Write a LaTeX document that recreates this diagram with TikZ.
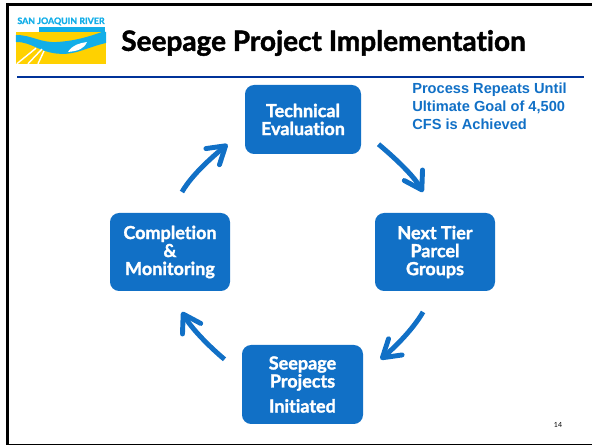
\documentclass[tikz,border=0pt]{standalone}
\usepackage{fontspec}
\setmainfont{Lato}[Ligatures=NoCommon, BoldFeatures={FakeBold=1.6}]
\newfontfamily\notefont{Liberation Sans}
\usetikzlibrary{arrows.meta}
\definecolor{boxblue}{HTML}{1170C6}
\definecolor{ruleblue}{HTML}{003399}
\definecolor{logoblue}{HTML}{12AEE8}
\definecolor{logoyellow}{HTML}{FFD100}
\tikzset{
    stagebox/.style={fill=boxblue, rounded corners=6.5pt, align=center, text=white, font=\bfseries\fontsize{12.8}{12.8}\selectfont, inner sep=0pt},
    cyclearrow/.style={draw=boxblue, line width=3.5pt, -{Straight Barb[length=12pt, width=15pt, round]}}
}

\begin{document}
\begin{tikzpicture}
    \useasboundingbox (0, 0) rectangle (14.8, 11.125);

    \draw[line width=2.1pt] (14.8, 11.0175) -- (0.1875, 11.0175) -- (0.1875, 0) -- (14.8, 0);
    \draw[ruleblue, line width=1.4pt] (0.425, 9.2) -- (14.6, 9.2);

    % logo
    \fill[logoyellow] (0.4, 9.525) rectangle (2.65, 10.325);
    \fill[logoblue] (0.4, 10.25) .. controls (0.8, 10.25) and (1, 10.05) .. (1.425, 10.075) .. controls (1.85, 10.1) and (2.2, 10.2) .. (2.55, 10.325) -- (2.65, 10.325) -- (2.65, 10.05) .. controls (2.2, 9.95) and (1.9, 9.75) .. (1.5, 9.78) .. controls (1, 9.8) and (0.8, 10.08) .. (0.4, 10.075) -- cycle;
    \fill[white] (1.7, 9.825) .. controls (1.8, 10) and (2, 10.05) .. (2.175, 10.075) .. controls (2.1, 9.9) and (1.95, 9.85) .. (1.7, 9.825) -- cycle;
    \foreach \fx/\tx/\ty in {0.42/0.9/9.92, 0.7/1.05/9.9, 0.95/1.1/9.85}
        \draw[white, line width=1pt] (\fx, 9.53) -- (\tx, \ty);
    \node[logoblue, font=\bfseries\fontsize{6.3}{7}\selectfont, inner sep=0pt] (logotext) at (1.525, 10.59) {SAN JOAQUIN RIVER};
    \fill[logoblue] (0.98, 10.335) rectangle (2.63, 10.45);

    \node[anchor=west, inner sep=0pt, font=\bfseries\fontsize{19.9}{22}\selectfont] (title) at (3.025, 10.05) {Seepage Project Implementation};
    \node[anchor=west, inner sep=0pt, align=left, text=boxblue, font=\notefont\bfseries\fontsize{10.4}{12.8}\selectfont] (note) at (10.3, 8.46) {Process Repeats Until\\Ultimate Goal of 4,500\\CFS is Achieved};

    \node[stagebox, minimum width=2.9cm, minimum height=1.725cm] (technical) at (7.575, 8.1375) {Technical\\Evaluation};
    \node[stagebox, minimum width=3cm, minimum height=1.95cm] (nexttier) at (10.875, 4.825) {Next Tier\\Parcel\\Groups};
    \node[stagebox, minimum width=3.025cm, minimum height=1.975cm] (seepage) at (7.5625, 1.5125) {Seepage\\Projects\\[5pt]Initiated};
    \node[stagebox, minimum width=3cm, minimum height=1.95cm] (completion) at (4.25, 4.825) {Completion\\\&\\Monitoring};

    \draw[cyclearrow, shorten <=16pt, shorten >=17pt] (technical.-10) to[out=-40, in=120] (nexttier.north);
    \draw[cyclearrow, shorten <=17pt, shorten >=16pt] (nexttier.south) to[out=240, in=40] (seepage.10);
    \draw[cyclearrow, shorten <=16pt, shorten >=17pt] (seepage.170) to[out=140, in=-60] (completion.south);
    \draw[cyclearrow, shorten <=17pt, shorten >=16pt] (completion.north) to[out=60, in=220] (technical.190);

    \node[font=\fontsize{5}{6}\selectfont, inner sep=0pt] (pagenum) at (13.95, 0.5) {14};
\end{tikzpicture}
\end{document}
